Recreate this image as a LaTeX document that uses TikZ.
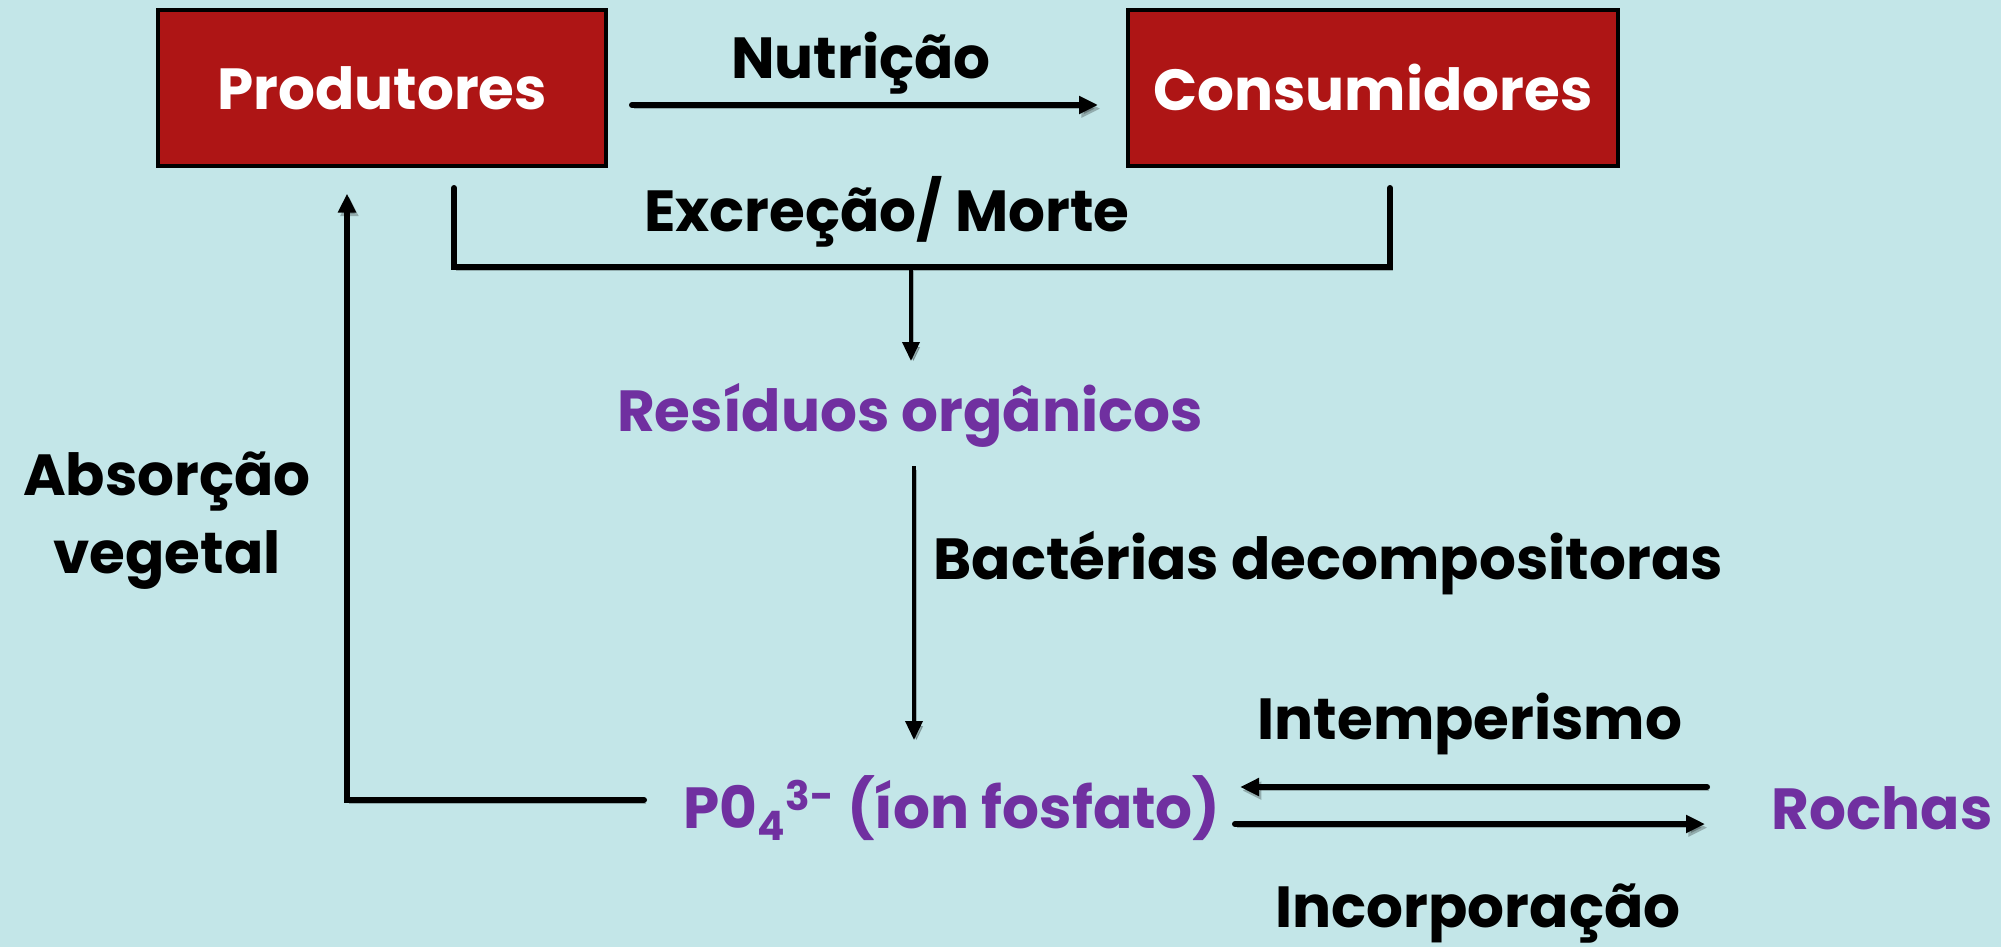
\documentclass[tikz,border=0pt]{standalone}
\usepackage{fontspec}
\setmainfont{Poppins}
\usetikzlibrary{arrows.meta}
\definecolor{bgc}{HTML}{C3E6E8}
\definecolor{boxred}{HTML}{AE1515}
\definecolor{purp}{HTML}{7030A0}
\tikzset{
  lbl/.style={font=\fontsize{29}{35}\selectfont\bfseries, text=black, inner sep=0pt},
  plbl/.style={lbl, text=purp},
  redbox/.style={draw=black, line width=2pt, fill=boxred, text=white, font=\fontsize{29}{35}\selectfont\bfseries, minimum height=77.5pt},
  shadowed/.style={preaction={draw=black, opacity=0.25, transform canvas={shift={(1.2pt,-1.8pt)}}}},
  thick line/.style={line width=3pt, line cap=round, shadowed},
  thin line/.style={line width=1.8pt, shadowed},
  arr/.style={-{Triangle[length=9.5pt,width=8.5pt]}},
}
\begin{document}
\begin{tikzpicture}[x=0.5pt,y=-0.5pt]
\fill[bgc] (0,0) rectangle (2001,947);
\useasboundingbox (0,0) rectangle (2001,947);
% boxes
\node[redbox, minimum width=224pt] (prod) at (382,88) {Produtores};
\node[redbox, minimum width=245pt] (cons) at (1373,88) {Consumidores};
% labels
\node[lbl] (nutr) at (861,63) {Nutrição};
\node[lbl] (excr) at (887,212) {Excreção/ Morte};
\node[plbl] (res) at (910,415) {Resíduos orgânicos};
\node[lbl, anchor=west] (bact) at (933,563) {Bactérias decompositoras};
\node[plbl, anchor=west] (po4) at (683,808) {P0\textsubscript{4}\textsuperscript{3-} (íon fosfato)};
\node[plbl] (roch) at (1882,808) {Rochas};
\node[lbl] (intem) at (1470,724) {Intemperismo};
\node[lbl] (incor) at (1478,914) {Incorporação};
\node[lbl, align=center, font=\fontsize{29}{39}\selectfont\bfseries] (abs) at (167,521) {Absorção\\vegetal};
% coordinates
\coordinate (bl1) at (454,188);
\coordinate (bl2) at (454,267);
\coordinate (br1) at (1390,188);
\coordinate (br2) at (1390,267);
\coordinate (bm) at (911,267);
\coordinate (corner) at (347,800);
% connectors
\draw[thick line, arr] ([shift={(24,17)}]prod.east) -- ([shift={(-28,17)}]cons.west);
\draw[thick line] (bl1) -- (bl2) -- (br2) -- (br1);
\draw[thin line, arr] (bm) -- ([shift={(1,-54)}]res.center);
\draw[thin line, arr] ([shift={(4,51)}]res.center) -- ([shift={(231,-68)}]po4.west);
\draw[thick line, arr] ([shift={(-39,-8)}]po4.west) -- (corner) -- ([shift={(-35,26)}]prod.south);
\draw[thick line, arr] ([shift={(-175,-21)}]roch.center) -- ([shift={(557,-21)}]po4.west);
\draw[thick line, arr] ([shift={(552,16)}]po4.west) -- ([shift={(-177,16)}]roch.center);
\end{tikzpicture}
\end{document}
